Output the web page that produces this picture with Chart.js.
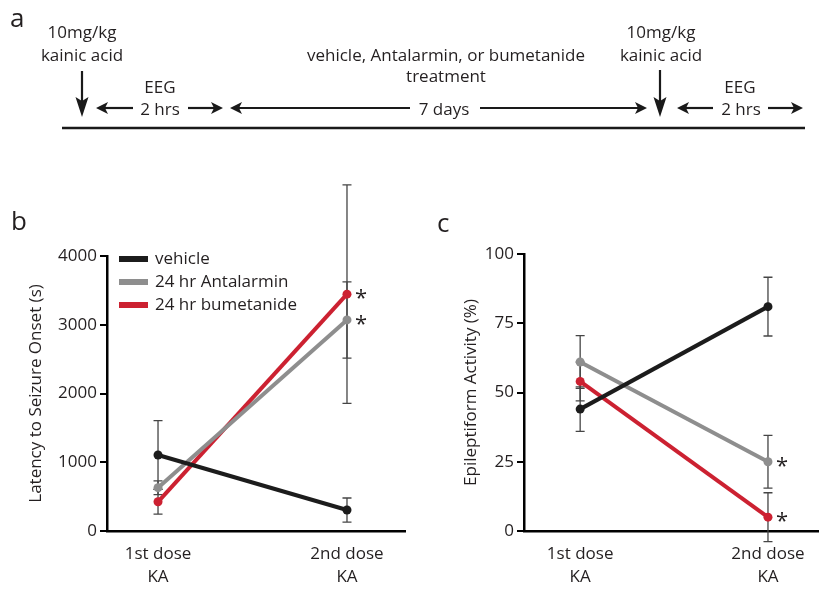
<!DOCTYPE html>
<html>
<head>
<meta charset="utf-8">
<script src="https://cdn.jsdelivr.net/npm/chart.js@4.4.1/dist/chart.umd.min.js"></script>
<style>
  html, body { margin: 0; padding: 0; background: #fff; }
  #page { position: relative; width: 823px; height: 589px; overflow: hidden; }
  canvas { position: absolute; }
  #chart-b { left: 0; top: 150px; }
  #chart-c { left: 420px; top: 150px; }
  svg { position: absolute; left: 0; top: 0; pointer-events: none; }
  svg text { font-family: "Open Sans", sans-serif; fill: #231f20; }
</style>
</head>
<body>
<div id="page">
  <canvas id="chart-b" width="420" height="439"></canvas>
  <canvas id="chart-c" width="403" height="439"></canvas>
  <svg width="823" height="589">
    <g font-size="17" text-anchor="middle">
      <text x="82" y="38">10mg/kg</text>
      <text x="82" y="61">kainic acid</text>
      <text x="160" y="93">EEG</text>
      <text x="160" y="115">2 hrs</text>
      <text x="446" y="61">vehicle, Antalarmin, or bumetanide</text>
      <text x="446" y="82">treatment</text>
      <text x="444" y="115">7 days</text>
      <text x="661" y="38">10mg/kg</text>
      <text x="661" y="61">kainic acid</text>
      <text x="740" y="93">EEG</text>
      <text x="741" y="115">2 hrs</text>
    </g>
    <g stroke="#1a1a1a" stroke-width="2.2" fill="none">
      <line x1="82" y1="71" x2="82" y2="104"/>
      <line x1="660" y1="70" x2="660" y2="104"/>
      <line x1="104" y1="108" x2="133" y2="108"/>
      <line x1="188" y1="108" x2="216" y2="108"/>
      <line x1="237" y1="108" x2="410" y2="108"/>
      <line x1="480" y1="108" x2="640" y2="108"/>
      <line x1="684" y1="108" x2="713" y2="108"/>
      <line x1="768" y1="108" x2="796" y2="108"/>
      <line x1="62" y1="128" x2="805" y2="128" stroke-width="2.5"/>
    </g>
    <g fill="#1a1a1a">
      <polygon points="82,117 75.5,97 82,101 88.5,97"/>
      <polygon points="660,117 653.5,97 660,101 666.5,97"/>
      <polygon points="96,108 108,102 105,108 108,114"/>
      <polygon points="223,108 211,102 214,108 211,114"/>
      <polygon points="230,108 242,102 239,108 242,114"/>
      <polygon points="647,108 635,102 638,108 635,114"/>
      <polygon points="677,108 689,102 686,108 689,114"/>
      <polygon points="803,108 791,102 794,108 791,114"/>
    </g>
    <g font-size="26">
      <text x="10" y="27">a</text>
      <text x="11" y="230">b</text>
      <text x="437" y="232">c</text>
    </g>
  </svg>
</div>
<script>
const doses = [["1st dose", "KA"], ["2nd dose", "KA"]];
const groups = ["vehicle", "24 hr Antalarmin", "24 hr bumetanide"];
const groupColors = ["#1c1c1c", "#8e8e8e", "#cc2131"];

// b: latency to seizure onset (s), mean and error
const latencyVehicle = [1105, 305];
const latencyAntalarmin = [630, 3070];
const latencyBumetanide = [425, 3445];
const latencyVehicleErr = [500, 175];
const latencyAntalarminErr = [100, 555];
const latencyBumetanideErr = [180, 1590];
const latencyStars = [[false, false], [false, true], [false, true]];
const latencyTicks = [0, 1000, 2000, 3000, 4000];

// c: epileptiform activity (%), mean and error
const activityVehicle = [44, 81];
const activityAntalarmin = [61, 25];
const activityBumetanide = [54, 5];
const activityVehicleErr = [8, 10.6];
const activityAntalarminErr = [9.5, 9.5];
const activityBumetanideErr = [7, 8.8];
const activityStars = [[false, false], [false, true], [false, true]];
const activityTicks = [0, 25, 50, 75, 100];

const textColor = "#231f20";
const fontFamily = "'Open Sans', sans-serif";

const errorBars = {
  id: "errorBars",
  beforeDatasetsDraw(chart) {
    const { ctx } = chart;
    const y = chart.scales.y;
    ctx.save();
    ctx.strokeStyle = "#454545";
    ctx.lineWidth = 1.3;
    chart.data.datasets.forEach((ds, di) => {
      chart.getDatasetMeta(di).data.forEach((pt, i) => {
        const v = ds.data[i].y;
        const top = y.getPixelForValue(v + ds.errors[i]);
        const bot = y.getPixelForValue(v - ds.errors[i]);
        ctx.beginPath();
        ctx.moveTo(pt.x, top);
        ctx.lineTo(pt.x, bot);
        ctx.moveTo(pt.x - 4.5, top);
        ctx.lineTo(pt.x + 4.5, top);
        ctx.moveTo(pt.x - 4.5, bot);
        ctx.lineTo(pt.x + 4.5, bot);
        ctx.stroke();
      });
    });
    ctx.restore();
  },
  afterDatasetsDraw(chart) {
    const { ctx } = chart;
    ctx.save();
    ctx.fillStyle = textColor;
    ctx.font = `22px ${fontFamily}`;
    ctx.textAlign = "center";
    ctx.textBaseline = "alphabetic";
    const m = ctx.measureText("*");
    const shift = (m.actualBoundingBoxAscent - m.actualBoundingBoxDescent) / 2;
    chart.data.datasets.forEach((ds, di) => {
      chart.getDatasetMeta(di).data.forEach((pt, i) => {
        if (ds.stars[i]) ctx.fillText("*", pt.x + 14, pt.y + shift);
      });
    });
    ctx.restore();
  },
};

const inlineLegend = {
  id: "inlineLegend",
  afterDraw(chart, args, opts) {
    if (!opts.show) return;
    const { ctx } = chart;
    ctx.save();
    ctx.font = `17px ${fontFamily}`;
    ctx.textBaseline = "middle";
    ctx.textAlign = "left";
    chart.data.datasets.forEach((ds, i) => {
      const y = opts.top + i * 23;
      ctx.strokeStyle = ds.borderColor;
      ctx.lineWidth = 6;
      ctx.beginPath();
      ctx.moveTo(opts.left, y);
      ctx.lineTo(opts.left + 29, y);
      ctx.stroke();
      ctx.fillStyle = textColor;
      ctx.fillText(ds.label, opts.left + 36, y);
    });
    ctx.restore();
  },
};

function makeDatasets(series, errors, stars) {
  return series.map((values, k) => ({
    label: groups[k],
    data: values.map((v, i) => ({ x: i, y: v })),
    errors: errors[k],
    stars: stars[k],
    borderColor: groupColors[k],
    backgroundColor: groupColors[k],
    borderWidth: 4,
    pointRadius: 4.5,
    pointBorderWidth: 0,
    clip: false,
  }));
}

function makeChart(canvas, cfg) {
  return new Chart(canvas, {
    type: "line",
    data: { datasets: makeDatasets(cfg.series, cfg.errors, cfg.stars) },
    plugins: [errorBars, inlineLegend],
    options: {
      responsive: false,
      animation: false,
      layout: { padding: cfg.padding },
      plugins: {
        legend: { display: false },
        tooltip: { enabled: false },
        inlineLegend: cfg.legend,
      },
      scales: {
        x: {
          type: "linear",
          min: cfg.xMin,
          max: cfg.xMax,
          afterBuildTicks: (s) => { s.ticks = doses.map((d, i) => ({ value: i })); },
          afterFit: (s) => { s.height = 58; },
          ticks: {
            callback: (v) => doses[Math.round(v)],
            color: textColor,
            font: { family: fontFamily, size: 17, lineHeight: 1.35 },
            padding: 4,
            maxRotation: 0,
            autoSkip: false,
          },
          grid: { display: false },
          border: { display: true, color: "#000", width: 2.5 },
        },
        y: {
          min: cfg.ticks[0],
          max: cfg.ticks[cfg.ticks.length - 1],
          afterBuildTicks: (s) => { s.ticks = cfg.ticks.map((v) => ({ value: v })); },
          afterFit: (s) => { s.width = cfg.yWidth; },
          ticks: {
            callback: (v) => String(v),
            color: textColor,
            font: { family: fontFamily, size: 17 },
            padding: 3,
          },
          grid: { display: true, drawOnChartArea: false, drawTicks: true, tickLength: 7, color: "#000", lineWidth: 2 },
          border: { display: true, color: "#000", width: 2.5 },
          title: {
            display: true,
            text: cfg.title,
            color: textColor,
            font: { family: fontFamily, size: 17 },
            padding: { top: cfg.titleGap, bottom: 0 },
          },
        },
      },
    },
  });
}

makeChart(document.getElementById("chart-b"), {
  series: [latencyVehicle, latencyAntalarmin, latencyBumetanide],
  errors: [latencyVehicleErr, latencyAntalarminErr, latencyBumetanideErr],
  stars: latencyStars,
  ticks: latencyTicks,
  title: "Latency to Seizure Onset (s)",
  titleGap: 26,
  yWidth: 107,
  xMin: -0.27,
  xMax: 1.307,
  padding: { top: 106, right: 15, left: 0, bottom: 0 },
  legend: { show: true, left: 119, top: 109 },
});

makeChart(document.getElementById("chart-c"), {
  series: [activityVehicle, activityAntalarmin, activityBumetanide],
  errors: [activityVehicleErr, activityAntalarminErr, activityBumetanideErr],
  stars: activityStars,
  ticks: activityTicks,
  title: "Epileptiform Activity (%)",
  titleGap: 41,
  yWidth: 104,
  xMin: -0.299,
  xMax: 1.269,
  padding: { top: 104, right: 0, left: 0, bottom: 0 },
  legend: { show: false },
});
</script>
</body>
</html>
